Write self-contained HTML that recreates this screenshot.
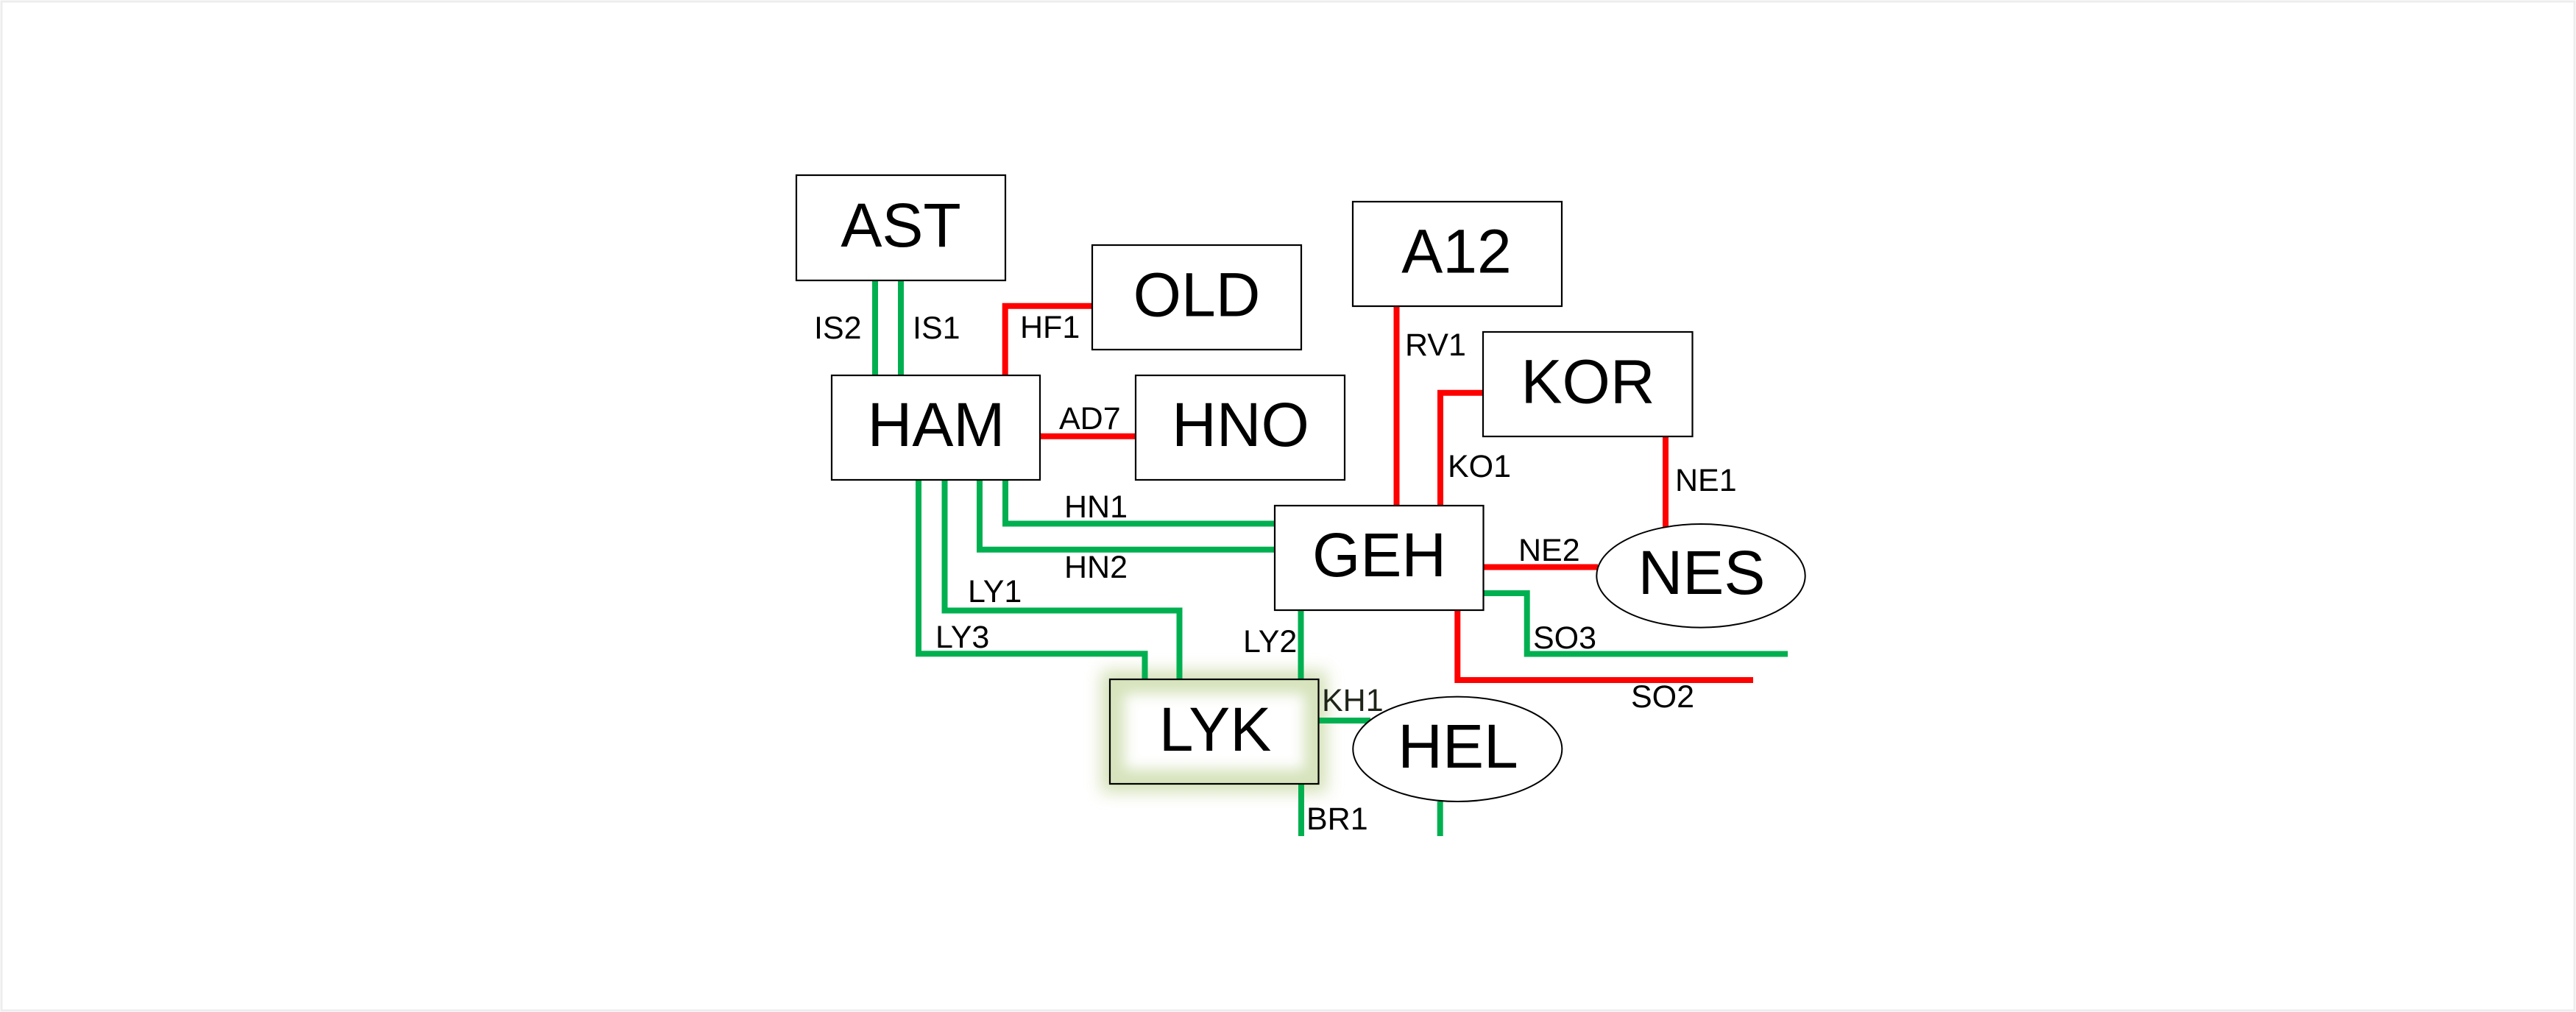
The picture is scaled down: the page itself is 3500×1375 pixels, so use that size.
<!DOCTYPE html>
<html>
<head>
<meta charset="utf-8">
<style>
  html, body { margin: 0; padding: 0; background: #ffffff; }
  body { width: 3500px; height: 1375px; overflow: hidden; }
  svg { display: block; }
  .big { font-family: "Liberation Sans", Arial, sans-serif; font-size: 84px; fill: #000; text-anchor: middle; }
  .lbl { font-family: "Liberation Sans", Arial, sans-serif; font-size: 43px; fill: #000; }
  .g { stroke: #00b050; stroke-width: 8; fill: none; stroke-linejoin: miter; stroke-linecap: butt; }
  .r { stroke: #ff0000; stroke-width: 8; fill: none; stroke-linejoin: miter; stroke-linecap: butt; }
  .box { fill: #ffffff; stroke: #000; stroke-width: 2.2; }
</style>
</head>
<body>
<svg width="3500" height="1375" viewBox="0 0 3500 1375" xmlns="http://www.w3.org/2000/svg">
  <defs>
    <filter id="outerGlow" x="-30%" y="-30%" width="160%" height="160%">
      <feGaussianBlur stdDeviation="11"/>
    </filter>
    <filter id="innerBlur" x="-30%" y="-30%" width="160%" height="160%">
      <feGaussianBlur stdDeviation="9"/>
    </filter>
    <clipPath id="lykClip">
      <rect x="1508" y="923" width="283.5" height="142"/>
    </clipPath>
  </defs>

  <!-- page frame -->
  <rect x="2" y="2" width="3496" height="1371" fill="none" stroke="#ededed" stroke-width="3"/>

  <!-- LYK glow (behind lines) -->
  <rect x="1496" y="911" width="307" height="166" fill="#d3e0b5" opacity="0.95" filter="url(#outerGlow)"/>

  <!-- Green connectors -->
  <path class="g" d="M1189 381 V510"/>
  <path class="g" d="M1224 381 V510"/>
  <path class="g" d="M1366 652 V711.5 H1732"/>
  <path class="g" d="M1331 652 V746.7 H1732"/>
  <path class="g" d="M1283.5 652 V829.5 H1602.5 V923"/>
  <path class="g" d="M1248 652 V888.3 H1555.5 V923"/>
  <path class="g" d="M1767.5 829 V923"/>
  <path class="g" d="M2015 806 H2074.7 V888.5 H2429"/>
  <path class="g" d="M1791.5 979 H1862"/>
  <path class="g" d="M1768 1065 V1136"/>
  <path class="g" d="M1956.7 1089 V1136"/>

  <!-- Red connectors -->
  <path class="r" d="M1365.7 510 V415.7 H1484"/>
  <path class="r" d="M1413 592.8 H1543"/>
  <path class="r" d="M1897.5 416 V687"/>
  <path class="r" d="M1957 687 V533.7 H2015"/>
  <path class="r" d="M2263 593 V716"/>
  <path class="r" d="M2015 770.5 H2171"/>
  <path class="r" d="M1980.3 829 V924 H2382"/>

  <!-- Boxes -->
  <rect class="box" x="1082" y="238" width="284" height="143"/>
  <rect class="box" x="1484" y="333" width="284" height="142"/>
  <rect class="box" x="1130" y="510" width="283" height="142"/>
  <rect class="box" x="1543" y="510" width="284" height="142"/>
  <rect class="box" x="1838" y="274" width="284" height="142"/>
  <rect class="box" x="2015" y="451" width="284.5" height="142"/>
  <rect class="box" x="1732" y="687" width="283.5" height="142"/>

  <!-- LYK box with inner glow -->
  <g clip-path="url(#lykClip)">
    <rect x="1508" y="923" width="283.5" height="142" fill="#d6e3bc"/>
    <rect x="1528" y="943" width="244" height="102" fill="#ffffff" filter="url(#innerBlur)"/>
  </g>
  <rect x="1508" y="923" width="283.5" height="142" fill="none" stroke="#000" stroke-width="2.2"/>

  <!-- Ellipses -->
  <ellipse cx="2311" cy="782.3" rx="141.7" ry="70.3" fill="#fff" stroke="#000" stroke-width="2"/>
  <ellipse cx="1980.3" cy="1017.8" rx="142" ry="71.2" fill="#fff" stroke="#000" stroke-width="2"/>

  <!-- Big labels -->
  <text class="big" x="1224" y="335">AST</text>
  <text class="big" x="1626" y="429.5">OLD</text>
  <text class="big" x="1272" y="606">HAM</text>
  <text class="big" x="1685.5" y="606">HNO</text>
  <text class="big" x="1979" y="370.5">A12</text>
  <text class="big" x="2157.5" y="547.5">KOR</text>
  <text class="big" x="1874" y="783">GEH</text>
  <text class="big" x="2312" y="807">NES</text>
  <text class="big" x="1651" y="1020">LYK</text>
  <text class="big" x="1981" y="1043">HEL</text>

  <!-- Connector labels -->
  <text class="lbl" x="1106" y="460">IS2</text>
  <text class="lbl" x="1240" y="460">IS1</text>
  <text class="lbl" x="1386" y="459">HF1</text>
  <text class="lbl" x="1439" y="583">AD7</text>
  <text class="lbl" x="1909" y="483">RV1</text>
  <text class="lbl" x="1967" y="648">KO1</text>
  <text class="lbl" x="2276" y="667">NE1</text>
  <text class="lbl" x="1446" y="703">HN1</text>
  <text class="lbl" x="1446" y="785">HN2</text>
  <text class="lbl" x="1315" y="818">LY1</text>
  <text class="lbl" x="1271" y="880">LY3</text>
  <text class="lbl" x="1689" y="886">LY2</text>
  <text class="lbl" x="2063" y="762">NE2</text>
  <text class="lbl" x="2083" y="881">SO3</text>
  <text class="lbl" x="2216" y="961">SO2</text>
  <text class="lbl" x="1796" y="966" style="fill:#1e2418">KH1</text>
  <text class="lbl" x="1775" y="1127">BR1</text>
</svg>
</body>
</html>
